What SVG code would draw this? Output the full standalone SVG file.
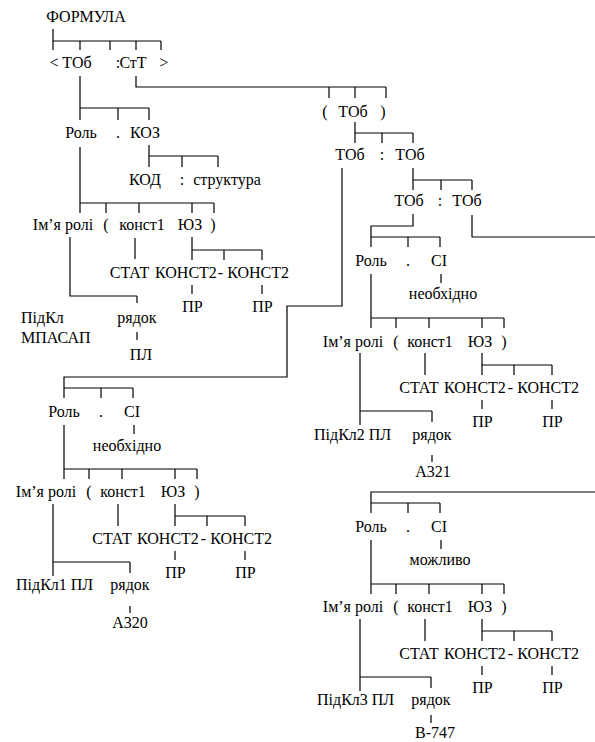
<svg xmlns="http://www.w3.org/2000/svg" width="595" height="742" viewBox="0 0 595 742">
<rect width="595" height="742" fill="#fff"/>
<g id="connectors" fill="none" stroke="#000" stroke-width="1.2">
<path d="M53,29V50M53,41H161M80,41V50M110,41V50M136,41V50M161,41V50"/>
<path d="M80,76V120M80,108H149M118,108V120M149,108V120"/>
<path d="M136,76V87H386M329,87V98M355,87V98M386,87V98"/>
<path d="M149,145V167M149,156H218M182,156V167M218,156V167"/>
<path d="M80,147V213M80,203H214M106,203V213M139,203V213M192,203V213M214,203V213"/>
<path d="M70,237V296H137M137,296V303"/>
<path d="M135,238V259"/>
<path d="M192,237V260M192,250H262M224,250V260M262,250V260"/>
<path d="M192,285V294M262,285V294"/>
<path d="M137,332V340"/>
<path d="M355,122V143M355,133H413M382,133V143M413,133V143"/>
<path d="M342,168V306H287V377H64V398"/>
<path d="M413,168V190M413,180H472M441,180V190M472,180V190"/>
<path d="M413,214V226H371V247M472,215V237H595"/>
<path d="M595,492H371V513"/>
<path d="M64,388H133M101,388V398M133,388V398M134,425V434"/>
<path d="M64,425V479M64,469H197M89,469V479M122,469V479M175,469V479M197,469V479"/>
<path d="M53,504V576M53,562H130M130,562V573M118,504V526"/>
<path d="M175,504V526M175,516H245M207,516V526M245,516V526M175,551V560M245,551V560M130,606V613"/>
<path d="M371,237H440M408,237V247M440,237V247M441,274V283"/>
<path d="M371,274V328M371,318H504M396,318V328M429,318V328M482,318V328M504,318V328"/>
<path d="M360,353V425M360,411H432M432,411V422M425,353V375"/>
<path d="M482,353V375M482,365H552M514,365V375M552,365V375M482,400V409M552,400V409M432,455V462"/>
<path d="M371,503H440M408,503V513M440,503V513M441,540V549"/>
<path d="M371,540V594M371,584H504M396,584V594M429,584V594M482,584V594M504,584V594"/>
<path d="M360,619V691M360,677H431M431,677V688M425,619V641"/>
<path d="M482,619V641M482,631H552M514,631V641M552,631V641M482,666V675M552,666V675M431,715V723"/>
</g>
<g id="nodes" transform="scale(0.8)">
<g id="n-formula"><text font-family="Liberation Serif" font-size="20" text-anchor="middle" x="107.5" y="27.5">ФОРМУЛА</text></g>
<g id="n-row1"><text font-family="Liberation Serif" font-size="20" text-anchor="middle" x="67.5" y="85">&lt;</text><text font-family="Liberation Serif" font-size="20" text-anchor="middle" x="96.25" y="85">ТОб</text><text font-family="Liberation Serif" font-size="20" text-anchor="middle" x="147.5" y="85">:</text><text font-family="Liberation Serif" font-size="20" text-anchor="middle" x="166.25" y="85">СтТ</text><text font-family="Liberation Serif" font-size="20" text-anchor="middle" x="205" y="85">&gt;</text></g>
<g id="n-role-koz"><text font-family="Liberation Serif" font-size="20" text-anchor="middle" x="101.25" y="172.5">Роль</text><text font-family="Liberation Serif" font-size="20" text-anchor="middle" x="147.5" y="172.5">.</text><text font-family="Liberation Serif" font-size="20" text-anchor="middle" x="181.25" y="172.5">КОЗ</text></g>
<g id="n-kod"><text font-family="Liberation Serif" font-size="20" text-anchor="middle" x="181.25" y="231.25">КОД</text><text font-family="Liberation Serif" font-size="20" text-anchor="middle" x="227.5" y="231.25">:</text><text font-family="Liberation Serif" font-size="20" text-anchor="middle" x="283.75" y="231.25">структура</text></g>
<g id="n-name0"><text font-family="Liberation Serif" font-size="20" text-anchor="middle" x="78.75" y="287.5">Ім’я ролі</text><text font-family="Liberation Serif" font-size="20" text-anchor="middle" x="132.5" y="287.5">(</text><text font-family="Liberation Serif" font-size="20" text-anchor="middle" x="177.5" y="287.5">конст1</text><text font-family="Liberation Serif" font-size="20" text-anchor="middle" x="237.5" y="287.5">ЮЗ</text><text font-family="Liberation Serif" font-size="20" text-anchor="middle" x="266.25" y="287.5">)</text></g>
<g id="n-stat0"><text font-family="Liberation Serif" font-size="20" text-anchor="middle" x="161.875" y="347.5">СТАТ</text><text font-family="Liberation Serif" font-size="20" x="193.75" y="347.5">КОНСТ2</text><text font-family="Liberation Serif" font-size="20" text-anchor="middle" x="275.625" y="347.5">-</text><text font-family="Liberation Serif" font-size="20" text-anchor="end" x="361.25" y="347.5">КОНСТ2</text></g>
<g id="n-pr0"><text font-family="Liberation Serif" font-size="20" text-anchor="middle" x="240.625" y="390">ПР</text><text font-family="Liberation Serif" font-size="20" text-anchor="middle" x="328.125" y="390">ПР</text></g>
<g id="n-pidkl0"><text font-family="Liberation Serif" font-size="20" x="26.25" y="403.75">ПідКл</text><text font-family="Liberation Serif" font-size="20" x="26.25" y="428.75">МПАСАП</text><text font-family="Liberation Serif" font-size="20" text-anchor="middle" x="171.25" y="403.75">рядок</text></g>
<g id="n-pl0"><text font-family="Liberation Serif" font-size="20" text-anchor="middle" x="176.25" y="450">ПЛ</text></g>
<g id="n-tob1"><text font-family="Liberation Serif" font-size="20" text-anchor="middle" x="406.25" y="146.25">(</text><text font-family="Liberation Serif" font-size="20" text-anchor="middle" x="441.25" y="146.25">ТОб</text><text font-family="Liberation Serif" font-size="20" text-anchor="middle" x="478.75" y="146.25">)</text></g>
<g id="n-tob2"><text font-family="Liberation Serif" font-size="20" text-anchor="middle" x="437.5" y="200">ТОб</text><text font-family="Liberation Serif" font-size="20" text-anchor="middle" x="477.5" y="200">:</text><text font-family="Liberation Serif" font-size="20" text-anchor="middle" x="512.5" y="200">ТОб</text></g>
<g id="n-tob3"><text font-family="Liberation Serif" font-size="20" text-anchor="middle" x="511.25" y="257.5">ТОб</text><text font-family="Liberation Serif" font-size="20" text-anchor="middle" x="550" y="257.5">:</text><text font-family="Liberation Serif" font-size="20" text-anchor="middle" x="583.75" y="257.5">ТОб</text></g>
<g id="n-role1"><text font-family="Liberation Serif" font-size="20" text-anchor="middle" x="80" y="521.25">Роль</text><text font-family="Liberation Serif" font-size="20" text-anchor="middle" x="126.25" y="521.25">.</text><text font-family="Liberation Serif" font-size="20" text-anchor="middle" x="165" y="521.25">СІ</text></g>
<g id="n-val1"><text font-family="Liberation Serif" font-size="20" text-anchor="middle" x="158.75" y="563.75">необхідно</text></g>
<g id="n-name1"><text font-family="Liberation Serif" font-size="20" text-anchor="middle" x="57.5" y="621.25">Ім’я ролі</text><text font-family="Liberation Serif" font-size="20" text-anchor="middle" x="111.25" y="621.25">(</text><text font-family="Liberation Serif" font-size="20" text-anchor="middle" x="153.75" y="621.25">конст1</text><text font-family="Liberation Serif" font-size="20" text-anchor="middle" x="216.25" y="621.25">ЮЗ</text><text font-family="Liberation Serif" font-size="20" text-anchor="middle" x="246.25" y="621.25">)</text></g>
<g id="n-stat1"><text font-family="Liberation Serif" font-size="20" text-anchor="middle" x="140" y="680">СТАТ</text><text font-family="Liberation Serif" font-size="20" x="171.25" y="680">КОНСТ2</text><text font-family="Liberation Serif" font-size="20" text-anchor="middle" x="254.375" y="680">-</text><text font-family="Liberation Serif" font-size="20" text-anchor="end" x="340" y="680">КОНСТ2</text></g>
<g id="n-pr1"><text font-family="Liberation Serif" font-size="20" text-anchor="middle" x="219.375" y="722.5">ПР</text><text font-family="Liberation Serif" font-size="20" text-anchor="middle" x="306.875" y="722.5">ПР</text></g>
<g id="n-pidkl1"><text font-family="Liberation Serif" font-size="20" x="20" y="737.5">ПідКл1 ПЛ</text><text font-family="Liberation Serif" font-size="20" text-anchor="middle" x="162.5" y="737.5">рядок</text></g>
<g id="n-a320"><text font-family="Liberation Serif" font-size="20" text-anchor="middle" x="162.5" y="785">A320</text></g>
<g id="n-role2"><text font-family="Liberation Serif" font-size="20" text-anchor="middle" x="463.75" y="332.5">Роль</text><text font-family="Liberation Serif" font-size="20" text-anchor="middle" x="510" y="332.5">.</text><text font-family="Liberation Serif" font-size="20" text-anchor="middle" x="548.75" y="332.5">СІ</text></g>
<g id="n-val2"><text font-family="Liberation Serif" font-size="20" text-anchor="middle" x="553.75" y="373.75">необхідно</text></g>
<g id="n-name2"><text font-family="Liberation Serif" font-size="20" text-anchor="middle" x="441.25" y="433.75">Ім’я ролі</text><text font-family="Liberation Serif" font-size="20" text-anchor="middle" x="495" y="433.75">(</text><text font-family="Liberation Serif" font-size="20" text-anchor="middle" x="537.5" y="433.75">конст1</text><text font-family="Liberation Serif" font-size="20" text-anchor="middle" x="600" y="433.75">ЮЗ</text><text font-family="Liberation Serif" font-size="20" text-anchor="middle" x="630" y="433.75">)</text></g>
<g id="n-stat2"><text font-family="Liberation Serif" font-size="20" text-anchor="middle" x="523.75" y="491.25">СТАТ</text><text font-family="Liberation Serif" font-size="20" x="555" y="491.25">КОНСТ2</text><text font-family="Liberation Serif" font-size="20" text-anchor="middle" x="638.125" y="491.25">-</text><text font-family="Liberation Serif" font-size="20" text-anchor="end" x="723.75" y="491.25">КОНСТ2</text></g>
<g id="n-pr2"><text font-family="Liberation Serif" font-size="20" text-anchor="middle" x="603.125" y="533.75">ПР</text><text font-family="Liberation Serif" font-size="20" text-anchor="middle" x="690.625" y="533.75">ПР</text></g>
<g id="n-pidkl2"><text font-family="Liberation Serif" font-size="20" x="392.5" y="550">ПідКл2 ПЛ</text><text font-family="Liberation Serif" font-size="20" text-anchor="middle" x="540" y="550">рядок</text></g>
<g id="n-a321"><text font-family="Liberation Serif" font-size="20" text-anchor="middle" x="541.25" y="596.25">A321</text></g>
<g id="n-role3"><text font-family="Liberation Serif" font-size="20" text-anchor="middle" x="463.75" y="665">Роль</text><text font-family="Liberation Serif" font-size="20" text-anchor="middle" x="510" y="665">.</text><text font-family="Liberation Serif" font-size="20" text-anchor="middle" x="548.75" y="665">СІ</text></g>
<g id="n-val3"><text font-family="Liberation Serif" font-size="20" text-anchor="middle" x="550" y="706.25">можливо</text></g>
<g id="n-name3"><text font-family="Liberation Serif" font-size="20" text-anchor="middle" x="441.25" y="765">Ім’я ролі</text><text font-family="Liberation Serif" font-size="20" text-anchor="middle" x="495" y="765">(</text><text font-family="Liberation Serif" font-size="20" text-anchor="middle" x="537.5" y="765">конст1</text><text font-family="Liberation Serif" font-size="20" text-anchor="middle" x="600" y="765">ЮЗ</text><text font-family="Liberation Serif" font-size="20" text-anchor="middle" x="630" y="765">)</text></g>
<g id="n-stat3"><text font-family="Liberation Serif" font-size="20" text-anchor="middle" x="523.75" y="823.75">СТАТ</text><text font-family="Liberation Serif" font-size="20" x="555" y="823.75">КОНСТ2</text><text font-family="Liberation Serif" font-size="20" text-anchor="middle" x="638.125" y="823.75">-</text><text font-family="Liberation Serif" font-size="20" text-anchor="end" x="723.75" y="823.75">КОНСТ2</text></g>
<g id="n-pr3"><text font-family="Liberation Serif" font-size="20" text-anchor="middle" x="603.125" y="866.25">ПР</text><text font-family="Liberation Serif" font-size="20" text-anchor="middle" x="690.625" y="866.25">ПР</text></g>
<g id="n-pidkl3"><text font-family="Liberation Serif" font-size="20" x="396.25" y="881.25">ПідКл3 ПЛ</text><text font-family="Liberation Serif" font-size="20" text-anchor="middle" x="538.75" y="881.25">рядок</text></g>
<g id="n-b747"><text font-family="Liberation Serif" font-size="20" text-anchor="middle" x="543.75" y="922.5">B-747</text></g>
</g>
</svg>
